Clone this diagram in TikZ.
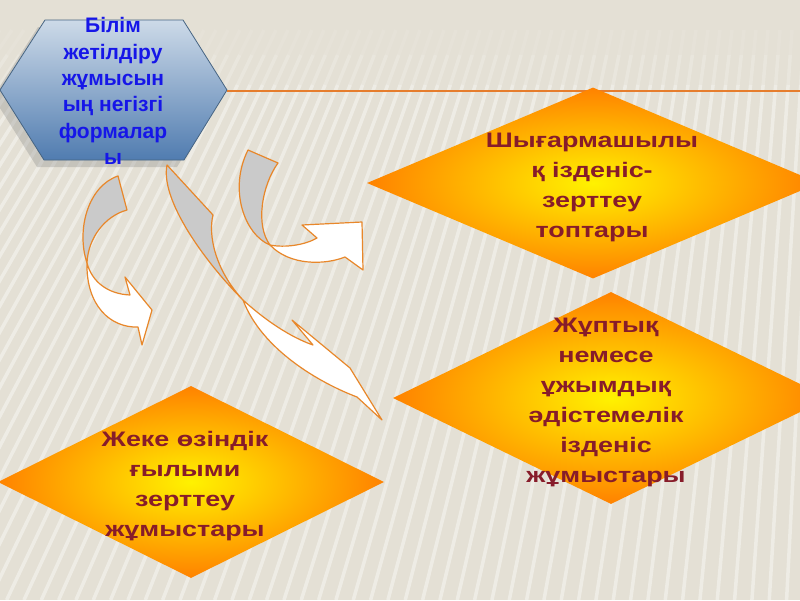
\documentclass[tikz,border=0pt]{standalone}
\usepackage{fontspec}
\setmainfont{Liberation Sans}
\newfontfamily\widefont[FakeStretch=1.28]{Liberation Sans}
\usetikzlibrary{shapes.geometric,shadows}

\definecolor{bgbase}{RGB}{228,224,213}
\definecolor{ribbon}{RGB}{232,135,42}
\definecolor{ribbongray}{RGB}{202,202,202}
\definecolor{hexlight}{RGB}{205,218,232}
\definecolor{hexdark}{RGB}{80,124,176}
\definecolor{hexedge}{RGB}{70,100,130}
\definecolor{hextext}{RGB}{22,22,232}
\definecolor{diatext}{RGB}{135,28,42}
\definecolor{diain}{RGB}{255,242,0}
\definecolor{diaout}{RGB}{255,130,0}
\definecolor{topline}{RGB}{230,125,45}

\tikzset{
	stripe/.style={white, line width=3.5pt, opacity=#1},
	hexbox/.style={draw=hexedge, line width=.8pt, top color=hexlight, bottom color=hexdark},
	hexlabel/.style={text=hextext, font=\fontsize{21}{26.4}\selectfont\bfseries, align=center, inner sep=0pt},
	diabox/.style={shape=diamond, inner sep=0pt, inner color=diain, outer color=diaout},
	dialabel/.style={text=diatext, font=\widefont\fontsize{21}{30}\selectfont\bfseries, align=center, inner sep=0pt},
	twistgray/.style={draw=ribbon, line width=1.2pt, fill=ribbongray, line join=round},
	twistwhite/.style={draw=ribbon, line width=1.2pt, fill=white, line join=round}
}

\begin{document}
\begin{tikzpicture}[x=1pt, y=-1pt]
	\useasboundingbox (0,0) rectangle (800,600);

	% фон
	\fill [bgbase] (0,0) rectangle (800,600);
	\foreach \i in {0,...,73} {
		\pgfmathsetmacro\xt{\i*12}
		\pgfmathsetmacro\dx{-max(0.7-0.0008*\xt,0)*560/570}
		\draw [stripe=.08] (\xt,30) -- ({\xt+\dx*25},55);
		\draw [stripe=.2] ({\xt+\dx*25},55) -- ({\xt+\dx*55},85);
		\draw [stripe=.4] ({\xt+\dx*55},85) -- ({\xt+\dx*570},600);
	}

	% шестиугольник
	\draw [hexbox, drop shadow={shadow xshift=-7pt, shadow yshift=-7pt, opacity=.3}]
		(0,90) -- (45,20) -- (183,20) -- (227,90) -- (184,160) -- (44,160) -- cycle;
	\coordinate (hexE) at (227,91);
	\coordinate (lineE) at (800,91);
	\draw [topline, line width=1.8pt] (hexE) -- (lineE);
	\node [hexlabel] (forms) at (113,91) {Білім\\жетілдіру\\жұмысын\\ың негізгі\\формалар\\ы};

	% ромбы
	\node [diabox, minimum width=452pt, minimum height=191pt] (d1) at (593,183) {};
	\node [diabox, minimum width=436pt, minimum height=212pt] (d2) at (611,398) {};
	\node [diabox, minimum width=386pt, minimum height=192pt] (d3) at (191,482) {};

	% стрелка к ромбу 3
	\draw [twistgray] (118,176) -- (127,210) .. controls (105,216) and (88,238) .. (87,263)
		.. controls (76,230) and (88,186) .. (118,176) -- cycle;
	\draw [twistwhite] (87,263) .. controls (92,282) and (108,294) .. (130,295) -- (125,277)
		-- (152,310) -- (142,345) -- (138,327) .. controls (110,328) and (86,305) .. (87,263) -- cycle;

	% стрелка к ромбу 2
	\draw [twistgray] (167,165) -- (213,215) .. controls (208,235) and (215,270) .. (243,300)
		.. controls (205,262) and (160,200) .. (167,165) -- cycle;
	\draw [twistwhite] (243,300) .. controls (265,320) and (290,337) .. (313,345) -- (292,320)
		-- (350,368) -- (382,420) -- (357,397) .. controls (320,383) and (262,350) .. (243,300) -- cycle;

	% стрелка к ромбу 1
	\draw [twistgray] (248,150) -- (278,163) .. controls (262,185) and (255,225) .. (270,245)
		.. controls (245,235) and (228,190) .. (248,150) -- cycle;
	\draw [twistwhite] (270,245) .. controls (285,248) and (305,245) .. (317,238) -- (302,225)
		-- (362,222) -- (363,270) -- (345,257) .. controls (325,265) and (290,266) .. (270,245) -- cycle;

	% тексты
	\node [dialabel] (t1) at (592,187) {Шығармашылы\\қ ізденіс-\\зерттеу\\топтары};
	\node [dialabel] (t2) at (606,402) {Жұптық\\немесе\\ұжымдық\\әдістемелік\\ізденіс\\жұмыстары};
	\node [dialabel] (t3) at (185,486) {Жеке өзіндік\\ғылыми\\зерттеу\\жұмыстары};
\end{tikzpicture}
\end{document}
